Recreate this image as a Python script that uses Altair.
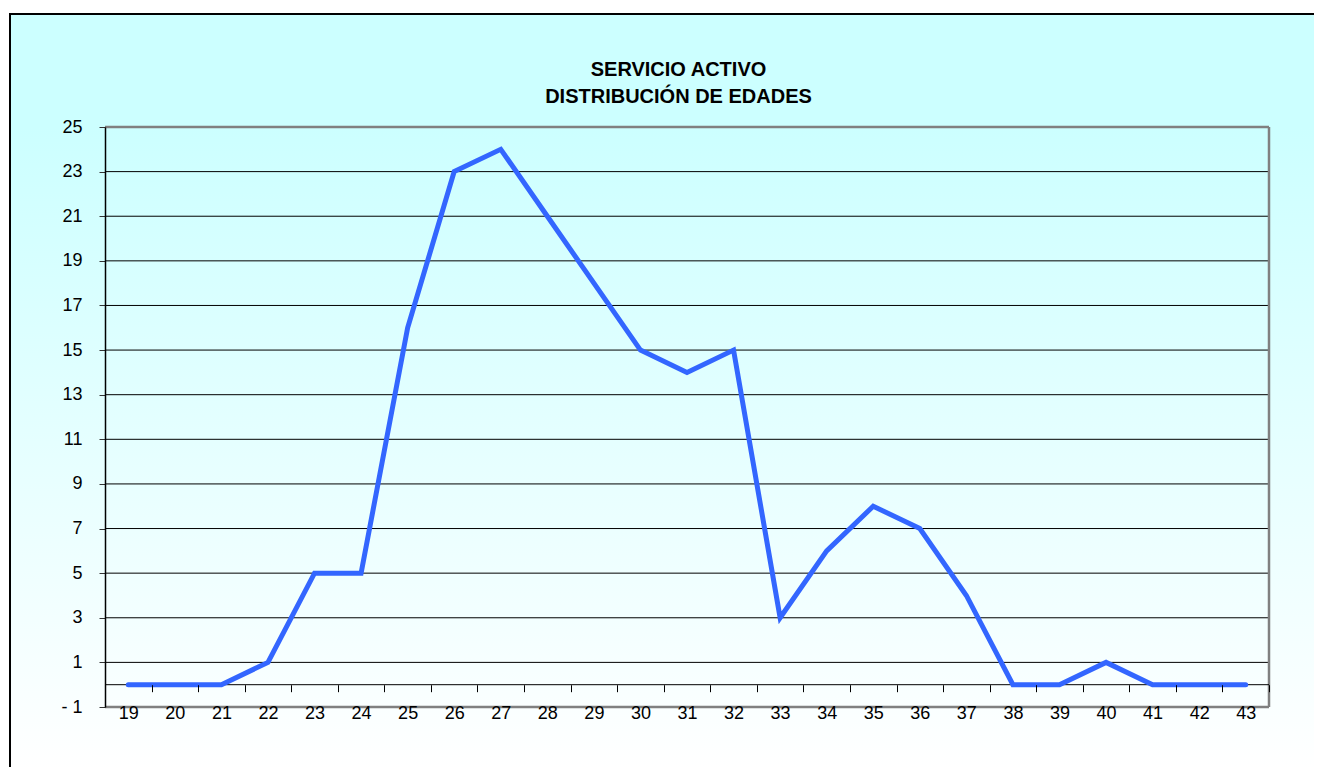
import altair as alt
import pandas as pd

# ---- data ----
ages = ["19", "20", "21", "22", "23", "24", "25", "26", "27", "28", "29", "30", "31",
        "32", "33", "34", "35", "36", "37", "38", "39", "40", "41", "42", "43"]
counts = [0, 0, 0, 1, 5, 5, 16, 23, 24, 21, 18, 15, 14, 15, 3, 6, 8, 7, 4, 0, 0, 1, 0, 0, 0]
y_ticks = [-1, 1, 3, 5, 7, 9, 11, 13, 15, 17, 19, 21, 23, 25]
title_lines = ["SERVICIO ACTIVO", "DISTRIBUCIÓN DE EDADES"]

W, H = 1164, 580
Y_MIN, Y_MAX = y_ticks[0], y_ticks[-1]
FONT = "Liberation Sans"

df = pd.DataFrame({"edad": ages, "n": counts})
grid_df = pd.DataFrame({"v": y_ticks[1:-1]})
frame_df = pd.DataFrame({"v": [Y_MIN, Y_MAX]})
one = pd.DataFrame({"d": [0]})

yscale = alt.Scale(domain=[Y_MIN, Y_MAX], nice=False, zero=False)
xscale = alt.Scale(paddingInner=0, paddingOuter=0)

gradient = alt.LinearGradient(
    gradient="linear",
    stops=[
        alt.GradientStop(color="#CCFFFF", offset=0),
        alt.GradientStop(color="#CCFFFF", offset=0.14),
        alt.GradientStop(color="#FFFFFF", offset=0.93),
        alt.GradientStop(color="#FFFFFF", offset=1),
    ],
    x1=0, x2=0, y1=0, y2=1,
)

# chart-area background with gradient (cropped at right/bottom)
bg = alt.Chart(one).mark_rect(fill=gradient, strokeWidth=0).encode(
    x=alt.value(-95), x2=alt.value(W + 45), y=alt.value(-113), y2=alt.value(700)
)
border_top = alt.Chart(one).mark_rule(color="black", strokeWidth=2).encode(
    x=alt.value(-96), x2=alt.value(W + 45), y=alt.value(-113)
)
border_left = alt.Chart(one).mark_rule(color="black", strokeWidth=2).encode(
    x=alt.value(-95), y=alt.value(-114), y2=alt.value(H + 80)
)

grid = alt.Chart(grid_df).mark_rule(color="black", strokeWidth=1).encode(
    y=alt.Y("v:Q", scale=yscale)
)

frame_h = alt.Chart(frame_df).mark_rule(color="#808080", strokeWidth=2.5).encode(
    y=alt.Y("v:Q", scale=yscale)
)
frame_r = alt.Chart(one).mark_rule(color="#808080", strokeWidth=2.5).encode(
    x=alt.value(W), y=alt.value(0), y2=alt.value(H)
)

zero_line = alt.Chart(one).mark_rule(color="black", strokeWidth=1).encode(
    y=alt.datum(0)
)

title = alt.Chart(one).mark_text(
    font=FONT, fontSize=20, fontWeight="bold", color="black",
    align="center", baseline="alphabetic", lineHeight=27.5,
).encode(
    x=alt.value(W / 2 - 8.5), y=alt.value(-51.5), text=alt.value(title_lines)
)

line = alt.Chart(df).mark_line(color="#3366FF", strokeWidth=5, strokeCap="round").encode(
    x=alt.X(
        "edad:N", sort=ages, scale=xscale,
        axis=alt.Axis(
            title=None, orient="bottom", offset=-H / (Y_MAX - Y_MIN),
            domain=False, ticks=True, tickBand="extent", tickSize=7,
            tickColor="black", tickWidth=1, labelAngle=0, labelPadding=13,
            labelFont=FONT, labelFontSize=18, labelColor="black", zindex=1,
        ),
    ),
    y=alt.Y(
        "n:Q", scale=yscale,
        axis=alt.Axis(
            title=None, values=y_ticks, grid=False, domain=True,
            domainColor="black", domainWidth=1.5, tickColor="#333333",
            tickSize=6, tickWidth=1, labelPadding=17, labelFont=FONT,
            labelFontSize=18, labelColor="black", zindex=1,
            labelExpr="datum.value == -1 ? '- 1' : datum.label",
        ),
    ),
)

chart = alt.layer(bg, border_top, border_left, grid, frame_h, frame_r, zero_line,
                  title, line).properties(
    width=W,
    height=H,
    autosize=alt.AutoSizeParams(type="none"),
    padding={"left": 97, "top": 119, "right": 45, "bottom": 60},
).configure_view(stroke=None).configure(background="white")

chart.save("out.html", embed_options={"renderer": "svg", "actions": False})
